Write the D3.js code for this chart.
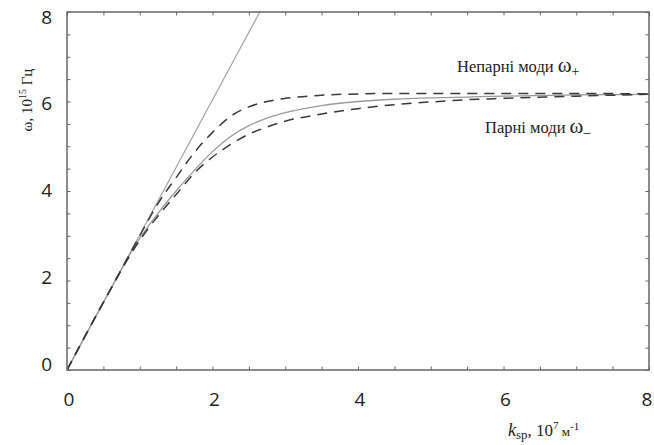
<!DOCTYPE html>
<html>
<head>
<meta charset="utf-8">
<script src="https://cdn.jsdelivr.net/npm/d3@7"></script>
<style>
  body { margin: 0; background: #fff; }
</style>
</head>
<body>
<script>
var w = 654, h = 445;
var margin = {top: 12, right: 5, bottom: 75, left: 67};

// k_sp values, 10^7 m^-1
var kVals = [0, 0.5, 1.0, 1.25, 1.5, 1.75, 2.0, 2.25, 2.5, 2.75, 3.0, 3.5, 4, 4.5, 5, 5.5, 6, 7, 8];
// odd modes (omega+), dashed upper
var wPlus = [0, 1.51, 3.0, 3.72, 4.30, 4.86, 5.31, 5.67, 5.88, 6.00, 6.07, 6.14, 6.17, 6.18, 6.18, 6.18, 6.18, 6.18, 6.17];
// single interface, solid middle
var wMid = [0, 1.51, 2.94, 3.50, 4.00, 4.46, 4.88, 5.22, 5.46, 5.63, 5.75, 5.91, 6.00, 6.05, 6.08, 6.10, 6.12, 6.15, 6.16];
// even modes (omega-), dashed lower
var wMinus = [0, 1.51, 2.90, 3.44, 3.92, 4.40, 4.76, 5.04, 5.27, 5.43, 5.56, 5.72, 5.84, 5.93, 5.99, 6.04, 6.07, 6.12, 6.16];
// light line
var lightK = [0, 2.65];
var lightW = [0, 8];

var xTicks = [0, 2, 4, 6, 8];
var yTicks = [0, 2, 4, 6, 8];
var minorTicks = [0, 0.5, 1, 1.5, 2, 2.5, 3, 3.5, 4, 4.5, 5, 5.5, 6, 6.5, 7, 7.5, 8];

var x = d3.scaleLinear().domain([0, 8]).range([margin.left, w - margin.right]);
var y = d3.scaleLinear().domain([0, 8]).range([h - margin.bottom, margin.top]);
var yLab = d3.scaleLinear().domain([0, 8]).range([364, 17]);

var svg = d3.select("body")
            .append("svg")
            .attr("width", w)
            .attr("height", h);

svg.append("clipPath").attr("id", "clip")
  .append("rect")
  .attr("x", x(0)).attr("y", y(8))
  .attr("width", x(8) - x(0)).attr("height", y(0) - y(8));

function zip(ks, ws) {
  return ks.map(function(k, i) { return [k, ws[i]]; });
}

var line = d3.line()
  .x(function(d) { return x(d[0]); })
  .y(function(d) { return y(d[1]); })
  .curve(d3.curveMonotoneX);

var curves = [
  {data: zip(lightK, lightW), color: "#a3a3a3", width: 1.2, dash: null},
  {data: zip(kVals, wMid), color: "#9a9a9a", width: 1.3, dash: null},
  {data: zip(kVals, wPlus), color: "#3a3a3a", width: 1.5, dash: "10,7"},
  {data: zip(kVals, wMinus), color: "#3a3a3a", width: 1.5, dash: "10,7"}
];

svg.append("g").attr("clip-path", "url(#clip)")
  .selectAll("path")
  .data(curves)
  .enter()
  .append("path")
  .attr("d", function(d) { return line(d.data); })
  .attr("fill", "none")
  .attr("stroke", function(d) { return d.color; })
  .attr("stroke-width", function(d) { return d.width; })
  .attr("stroke-dasharray", function(d) { return d.dash; });

// ticks pointing inward on all four sides
var tickLen = 3.5;
var axisColor = "#666";
svg.append("g").call(d3.axisBottom(x).tickValues(minorTicks).tickSize(tickLen).tickFormat(""))
  .attr("transform", "translate(0," + (y(0) - tickLen) + ")");
svg.append("g").call(d3.axisTop(x).tickValues(minorTicks).tickSize(tickLen).tickFormat(""))
  .attr("transform", "translate(0," + (y(8) + tickLen) + ")");
svg.append("g").call(d3.axisLeft(y).tickValues(minorTicks).tickSize(tickLen).tickFormat(""))
  .attr("transform", "translate(" + (x(0) + tickLen) + ",0)");
svg.append("g").call(d3.axisRight(y).tickValues(minorTicks).tickSize(tickLen).tickFormat(""))
  .attr("transform", "translate(" + (x(8) - tickLen) + ",0)");
svg.selectAll(".domain").remove();
svg.selectAll(".tick line").attr("stroke", axisColor).attr("stroke-width", 1);

svg.append("rect")
  .attr("x", x(0)).attr("y", y(8))
  .attr("width", x(8) - x(0)).attr("height", y(0) - y(8))
  .attr("fill", "none")
  .attr("stroke", axisColor)
  .attr("stroke-width", 1.5);

svg.selectAll("text.xl")
  .data(xTicks)
  .enter()
  .append("text")
  .attr("class", "xl")
  .text(function(d) { return d; })
  .attr("x", function(d) { return Math.min(x(d) + 2, w - 7); })
  .attr("y", 406)
  .attr("font-family", "Open Sans, sans-serif")
  .attr("font-size", "19px")
  .attr("fill", "#222")
  .attr("text-anchor", "middle");

svg.selectAll("text.yl")
  .data(yTicks)
  .enter()
  .append("text")
  .attr("class", "yl")
  .text(function(d) { return d; })
  .attr("x", 52)
  .attr("y", function(d) { return yLab(d); })
  .attr("dy", "0.35em")
  .attr("font-family", "Open Sans, sans-serif")
  .attr("font-size", "19px")
  .attr("fill", "#222")
  .attr("text-anchor", "end");

var serif = "Liberation Serif, Times New Roman, serif";

// x axis title
var xt = svg.append("text")
  .attr("x", 508).attr("y", 436)
  .attr("font-family", serif)
  .attr("font-size", "17px")
  .attr("fill", "#222");
xt.append("tspan").attr("font-style", "italic").attr("font-size", "18px").text("k");
xt.append("tspan").attr("font-size", "13px").attr("dy", 3).text("sp");
xt.append("tspan").attr("dy", -3).text(", 10");
xt.append("tspan").attr("font-size", "11px").attr("dy", -7).text("7");
xt.append("tspan").attr("dy", 7).attr("font-size", "13px").text(" м");
xt.append("tspan").attr("font-size", "11px").attr("dy", -6).text("-1");

// y axis title
var yt = svg.append("text")
  .attr("transform", "translate(32,100) rotate(-90)")
  .attr("text-anchor", "middle")
  .attr("font-family", serif)
  .attr("font-size", "15px")
  .attr("fill", "#222");
yt.append("tspan").text("ω, 10");
yt.append("tspan").attr("font-size", "10px").attr("dy", -6).text("15");
yt.append("tspan").attr("dy", 6).text(" Гц");

// mode labels
var t1 = svg.append("text")
  .attr("x", 457).attr("y", 72)
  .attr("font-family", serif)
  .attr("font-size", "16.5px")
  .attr("fill", "#222");
t1.append("tspan").text("Непарні моди ");
t1.append("tspan").attr("font-size", "21px").text("ω");
t1.append("tspan").attr("font-size", "14px").attr("dy", 4).text("+");

var t2 = svg.append("text")
  .attr("x", 485).attr("y", 133)
  .attr("font-family", serif)
  .attr("font-size", "16.5px")
  .attr("fill", "#222");
t2.append("tspan").text("Парні моди ");
t2.append("tspan").attr("font-size", "21px").text("ω");
t2.append("tspan").attr("font-size", "14px").attr("dy", 4).text("–");
</script>
</body>
</html>
